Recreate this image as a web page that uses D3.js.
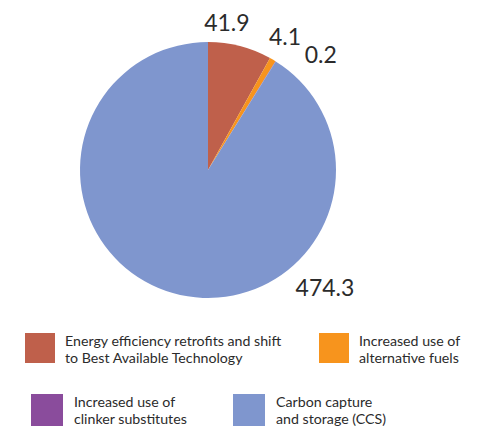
<!DOCTYPE html>
<html><head><meta charset="utf-8">
<script src="https://cdn.jsdelivr.net/npm/d3@7"></script>
<style>body{margin:0;background:#fff;} text{font-family:"Lato","Open Sans",sans-serif;fill:#2b2b2b;}</style>
</head><body>
<svg id="c" width="484" height="427"></svg>
<script>
const categories = ["Energy efficiency retrofits and shift|to Best Available Technology","Increased use of|alternative fuels","Increased use of|clinker substitutes","Carbon capture|and storage (CCS)"];
const values = [41.9, 4.1, 0.2, 474.3];
const labels = ["41.9","4.1","0.2","474.3"];
const colors = ["#BF604B","#F7941D","#8A4C9C","#7F96CE"];

const svg = d3.select("#c");
const cx = 208, cy = 170, r = 128;
const pie = d3.pie().sort(null).value(d => d)(values);
const arc = d3.arc().innerRadius(0).outerRadius(r);
const g = svg.append("g").attr("transform", `translate(${cx},${cy})`);
g.selectAll("path").data(pie).enter().append("path")
  .attr("d", arc).attr("fill", (d,i) => colors[i]);

// label placement: angle (deg from top, clockwise) and radius for each value label
const labelAngle = [7.3, 30.1, 44.5, 135.2];
const labelRadius = [148.7, 153.7, 161, 166];
g.selectAll("text.v").data(labels).enter().append("text").attr("class","v")
  .attr("x", (d,i) => Math.sin(labelAngle[i]*Math.PI/180)*labelRadius[i])
  .attr("y", (d,i) => -Math.cos(labelAngle[i]*Math.PI/180)*labelRadius[i])
  .attr("dy", "0.35em").attr("text-anchor","middle")
  .attr("font-size", 23).text(d => d);

// legend
const legPos = [[25,333],[319,333],[31,394],[233,394]];
const lg = svg.selectAll("g.leg").data(categories).enter().append("g").attr("class","leg")
  .attr("transform", (d,i) => `translate(${legPos[i][0]},${legPos[i][1]})`);
lg.append("rect").attr("width", (d,i)=> i<2?30:32).attr("height", (d,i)=> i<2?30:32)
  .attr("fill", (d,i) => colors[i]);
lg.each(function(d,i){
  const sel = d3.select(this);
  d.split("|").forEach((line,k)=>{
    sel.append("text").attr("x", i<2?40:43).attr("y", 13 + k*17).attr("font-size", 14.2).text(line);
  });
});
</script>
</body></html>
